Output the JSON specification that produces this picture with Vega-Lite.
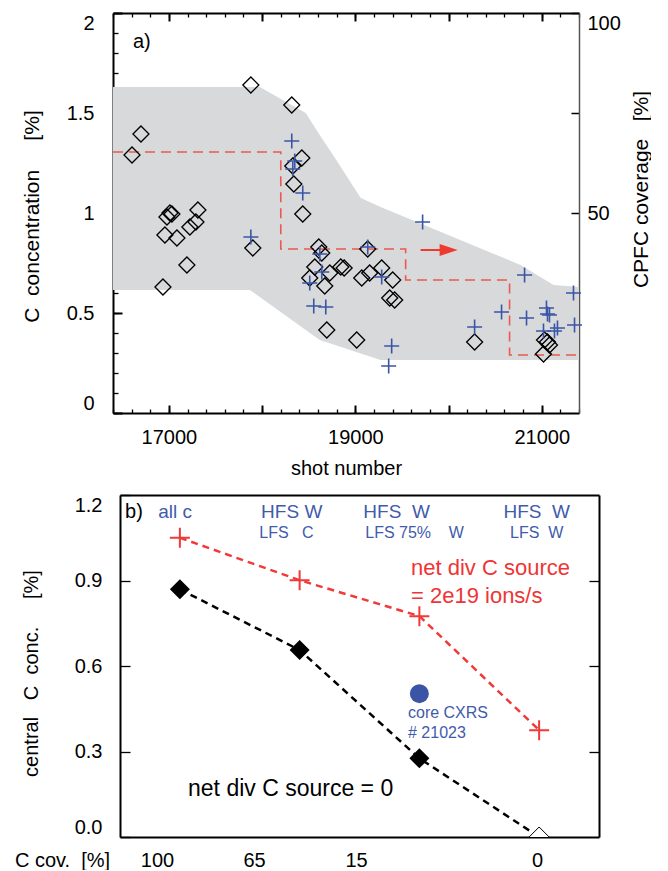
{
  "$schema": "https://vega.github.io/schema/vega-lite/v6.json",
  "padding": {"left": 14, "top": 12, "right": 0, "bottom": 0},
  "background": "white",
  "columns": 1,
  "spacing": 16,
  "config": {
    "view": {"stroke": null},
    "font": "Liberation Sans",
    "axis": {
      "domainColor": "black", "domainWidth": 2, "tickColor": "black", "tickWidth": 1.3,
      "labelColor": "black", "titleColor": "black", "labelFont": "Liberation Sans", "titleFont": "Liberation Sans",
      "labelFontSize": 20, "titleFontSize": 20, "titleFontWeight": "normal", "grid": false
    }
  },
  "datasets": {
    "band": [
      {"shot": 16400, "lo": 0.615, "hi": 1.63}, {"shot": 17868, "lo": 0.615, "hi": 1.63},
      {"shot": 17975, "lo": 0.58, "hi": 1.63}, {"shot": 18468, "lo": 0.415, "hi": 1.5},
      {"shot": 18618, "lo": 0.365, "hi": 1.39}, {"shot": 18768, "lo": 0.342, "hi": 1.285},
      {"shot": 19058, "lo": 0.297, "hi": 1.075}, {"shot": 19272, "lo": 0.265, "hi": 1.03},
      {"shot": 20773, "lo": 0.265, "hi": 0.74}, {"shot": 21127, "lo": 0.265, "hi": 0.64},
      {"shot": 21400, "lo": 0.265, "hi": 0.63}
    ],
    "step": [
      {"shot": 16400, "c": 1.305}, {"shot": 18200, "c": 0.82}, {"shot": 19540, "c": 0.665},
      {"shot": 20655, "c": 0.29}, {"shot": 21400, "c": 0.29}
    ],
    "shaft": [{"shot": 19700, "c": 0.815}, {"shot": 19930, "c": 0.815}],
    "head": [{"shot": 20001, "c": 0.815}],
    "dia": [
      {"shot": 16604, "c": 1.29}, {"shot": 16700, "c": 1.395}, {"shot": 17879, "c": 1.64},
      {"shot": 18318, "c": 1.54}, {"shot": 18340, "c": 1.145}, {"shot": 18426, "c": 1.275},
      {"shot": 18329, "c": 1.235}, {"shot": 18436, "c": 0.995}, {"shot": 16979, "c": 0.98},
      {"shot": 17011, "c": 1.0}, {"shot": 17032, "c": 0.995}, {"shot": 17311, "c": 1.015},
      {"shot": 17225, "c": 0.93}, {"shot": 17290, "c": 0.955}, {"shot": 16957, "c": 0.89},
      {"shot": 17086, "c": 0.875}, {"shot": 17193, "c": 0.74}, {"shot": 16936, "c": 0.63},
      {"shot": 17900, "c": 0.825}, {"shot": 18608, "c": 0.83}, {"shot": 18640, "c": 0.8},
      {"shot": 18565, "c": 0.73}, {"shot": 18726, "c": 0.7}, {"shot": 18511, "c": 0.675},
      {"shot": 18672, "c": 0.635}, {"shot": 18844, "c": 0.73}, {"shot": 18880, "c": 0.725},
      {"shot": 18694, "c": 0.415}, {"shot": 19133, "c": 0.82}, {"shot": 19154, "c": 0.7},
      {"shot": 19069, "c": 0.675}, {"shot": 19283, "c": 0.725}, {"shot": 19401, "c": 0.665},
      {"shot": 19369, "c": 0.575}, {"shot": 19422, "c": 0.565}, {"shot": 19015, "c": 0.365},
      {"shot": 20280, "c": 0.355}, {"shot": 21030, "c": 0.365}, {"shot": 21062, "c": 0.355},
      {"shot": 21083, "c": 0.34}, {"shot": 21019, "c": 0.295}
    ],
    "plus": [
      {"shot": 18318, "c": 1.36}, {"shot": 18350, "c": 1.26}, {"shot": 18329, "c": 1.22},
      {"shot": 18436, "c": 1.1}, {"shot": 17879, "c": 0.88}, {"shot": 18619, "c": 0.795},
      {"shot": 18640, "c": 0.705}, {"shot": 18511, "c": 0.65}, {"shot": 18554, "c": 0.535},
      {"shot": 18683, "c": 0.53}, {"shot": 19133, "c": 0.83}, {"shot": 19722, "c": 0.955},
      {"shot": 19283, "c": 0.68}, {"shot": 19390, "c": 0.335}, {"shot": 19358, "c": 0.235},
      {"shot": 20280, "c": 0.43}, {"shot": 20569, "c": 0.505}, {"shot": 20816, "c": 0.69},
      {"shot": 20837, "c": 0.475}, {"shot": 21051, "c": 0.525}, {"shot": 21062, "c": 0.495},
      {"shot": 21083, "c": 0.49}, {"shot": 21019, "c": 0.41}, {"shot": 21169, "c": 0.425},
      {"shot": 21137, "c": 0.41}, {"shot": 21341, "c": 0.6}, {"shot": 21352, "c": 0.44}
    ],
    "bline": [
      {"pos": 0.5, "v": 0.869}, {"pos": 1.5, "v": 0.656}, {"pos": 2.5, "v": 0.276}, {"pos": 3.5, "v": 0.0}
    ],
    "rline": [
      {"pos": 0.5, "v": 1.05}, {"pos": 1.5, "v": 0.901}, {"pos": 2.5, "v": 0.775}, {"pos": 3.5, "v": 0.375}
    ],
    "cxrs": [{"pos": 2.5, "v": 0.503}]
  },
  "concat": [
    {
      "width": 466,
      "height": 400,
      "resolve": {"axis": {"x": "independent", "y": "independent"}},
      "layer": [
        {
          "data": {"name": "band"},
          "mark": {"type": "area", "color": "#d8d9db"},
          "encoding": {
            "x": {"field": "shot", "type": "quantitative",
              "scale": {"domain": [16400, 21400], "nice": false, "zero": false},
              "axis": {"orient": "bottom", "values": [17000, 18000, 19000, 20000, 21000], "tickSize": -8, "tickWidth": 2,
                "labelExpr": "datum.value % 2000 == 1000 ? format(datum.value, 'd') : ''",
                "labelBaseline": "alphabetic", "labelPadding": 38,
                "title": "shot number", "titleY": 61, "titleBaseline": "alphabetic"}},
            "y": {"field": "hi", "type": "quantitative",
              "scale": {"domain": [0, 2], "nice": false},
              "axis": {"orient": "left", "values": [0, 0.5, 1, 1.5, 2], "tickSize": -9, "tickWidth": 2,
                "labelPadding": 28, "labelFlush": true, "format": "~g", "minExtent": 99,
                "title": "C\u00a0\u00a0concentration\u00a0\u00a0\u00a0\u00a0\u00a0[%]", "titleAngle": 270,
                "titleX": -75, "titleY": 203, "titleBaseline": "alphabetic", "titleAlign": "center", "titleFontSize": 21}},
            "y2": {"field": "lo"}
          }
        },
        {
          "data": {"name": "step"},
          "mark": {"type": "line", "interpolate": "step-after", "color": "#e85a50", "strokeWidth": 1.6, "strokeDash": [10, 6]},
          "encoding": {
            "x": {"field": "shot", "type": "quantitative",
              "axis": {"orient": "bottom", "values": [16400, 16600, 16800, 17000, 17200, 17400, 17600, 17800, 18000, 18200, 18400, 18600, 18800, 19000, 19200, 19400, 19600, 19800, 20000, 20200, 20400, 20600, 20800, 21000, 21200, 21400],
                "tickSize": -4, "labels": false, "title": null, "domain": false}},
            "y": {"field": "c", "type": "quantitative",
              "axis": {"orient": "left", "values": [0, 0.1, 0.2, 0.3, 0.4, 0.5, 0.6, 0.7, 0.8, 0.9, 1, 1.1, 1.2, 1.3, 1.4, 1.5, 1.6, 1.7, 1.8, 1.9, 2],
                "tickSize": -5, "labels": false, "title": null, "domain": false}}
          }
        },
        {
          "data": {"name": "shaft"},
          "mark": {"type": "line", "color": "#ee3a2f", "strokeWidth": 2},
          "encoding": {
            "x": {"field": "shot", "type": "quantitative",
              "axis": {"orient": "top", "values": [17000, 18000, 19000, 20000, 21000], "tickSize": -8, "tickWidth": 2, "labels": false, "title": null}},
            "y": {"field": "c", "type": "quantitative",
              "axis": {"orient": "right", "values": [0.5, 1, 1.5, 2], "tickSize": -8, "tickWidth": 1.5, "labelPadding": 16, "labelFlush": true,
                "labelExpr": "datum.value == 1 ? '50' : datum.value == 2 ? '100' : ''",
                "domainColor": "#555555", "domainWidth": 1.5,
                "title": "CPFC coverage\u00a0\u00a0\u00a0[%]", "titleAngle": 270, "titleX": 68, "titleY": 176,
                "titleBaseline": "alphabetic", "titleAlign": "center", "titleFontSize": 21}}
          }
        },
        {
          "data": {"name": "head"},
          "mark": {"type": "point", "shape": "M-1.5,-1L1.5,0L-1.5,1Z", "filled": true, "color": "#ee3a2f", "size": 144, "opacity": 1},
          "encoding": {
            "x": {"field": "shot", "type": "quantitative",
              "axis": {"orient": "top", "values": [16400, 16600, 16800, 17000, 17200, 17400, 17600, 17800, 18000, 18200, 18400, 18600, 18800, 19000, 19200, 19400, 19600, 19800, 20000, 20200, 20400, 20600, 20800, 21000, 21200, 21400],
                "tickSize": -4, "labels": false, "title": null, "domain": false}},
            "y": {"field": "c", "type": "quantitative", "axis": null}
          }
        },
        {
          "data": {"name": "dia"},
          "mark": {"type": "point", "shape": "diamond", "filled": false, "stroke": "black", "strokeWidth": 1.3, "size": 256, "opacity": 1},
          "encoding": {
            "x": {"field": "shot", "type": "quantitative", "axis": null},
            "y": {"field": "c", "type": "quantitative", "axis": null}
          }
        },
        {
          "data": {"name": "plus"},
          "mark": {"type": "point", "shape": "M-1,0H1M0,-1V1", "filled": false, "stroke": "#3a55a5", "strokeWidth": 1.6, "size": 225, "opacity": 1},
          "encoding": {
            "x": {"field": "shot", "type": "quantitative", "axis": null},
            "y": {"field": "c", "type": "quantitative", "axis": null}
          }
        },
        {
          "data": {"values": [{"shot": 16614, "c": 1.855, "t": "a)"}]},
          "mark": {"type": "text", "align": "left", "baseline": "middle", "fontSize": 20, "color": "black"},
          "encoding": {
            "x": {"field": "shot", "type": "quantitative", "axis": null},
            "y": {"field": "c", "type": "quantitative", "axis": null},
            "text": {"field": "t"}
          }
        }
      ]
    },
    {
      "width": 486,
      "height": 342,
      "resolve": {"axis": {"x": "independent", "y": "independent"}},
      "layer": [
        {
          "data": {"name": "bline"},
          "mark": {"type": "line", "color": "black", "strokeWidth": 2.5, "strokeDash": [7, 5]},
          "encoding": {
            "x": {"field": "pos", "type": "quantitative",
              "scale": {"domain": [0, 4], "range": [7, 486], "nice": false, "zero": false},
              "axis": {"orient": "bottom", "values": [0.309, 1.119, 1.971, 3.482], "ticks": false, "tickSize": 0,
                "labelExpr": "datum.value < 0.5 ? '100' : datum.value < 1.5 ? '65' : datum.value < 2.5 ? '15' : '0'",
                "labelBaseline": "alphabetic", "labelPadding": 29,
                "title": "C cov.\u00a0\u00a0[%]", "titleX": -51, "titleY": 29, "titleBaseline": "alphabetic", "titleAlign": "center"}},
            "y": {"field": "v", "type": "quantitative",
              "scale": {"domain": [0, 1.2], "nice": false},
              "axis": {"orient": "left", "offset": -7, "values": [0, 0.3, 0.6, 0.9, 1.2], "format": ".1f", "tickSize": -10, "tickWidth": 1.3,
                "labelPadding": 28, "labelFlush": true,
                "title": "central\u00a0\u00a0\u00a0C\u00a0\u00a0conc.\u00a0\u00a0\u00a0\u00a0\u00a0[%]", "titleAngle": 270,
                "titleX": -83, "titleY": 178, "titleBaseline": "alphabetic", "titleAlign": "center"}}
          }
        },
        {
          "data": {"name": "rline"},
          "mark": {"type": "line", "color": "#f03a3a", "strokeWidth": 2.5, "strokeDash": [7, 5]},
          "encoding": {
            "x": {"field": "pos", "type": "quantitative",
              "axis": {"orient": "top", "ticks": false, "labels": false, "title": null}},
            "y": {"field": "v", "type": "quantitative",
              "axis": {"orient": "right", "values": [0.3, 0.6, 0.9], "tickSize": -10, "labels": false, "title": null}}
          }
        },
        {
          "data": {"name": "bline"},
          "transform": [{"filter": "datum.pos < 3"}],
          "mark": {"type": "point", "shape": "diamond", "filled": true, "color": "black", "size": 400, "opacity": 1},
          "encoding": {
            "x": {"field": "pos", "type": "quantitative", "axis": null},
            "y": {"field": "v", "type": "quantitative", "axis": null}
          }
        },
        {
          "data": {"name": "bline"},
          "transform": [{"filter": "datum.pos > 3"}],
          "mark": {"type": "point", "shape": "diamond", "filled": true, "fill": "white", "stroke": "black", "strokeWidth": 1, "size": 400, "opacity": 1, "clip": true},
          "encoding": {
            "x": {"field": "pos", "type": "quantitative", "axis": null},
            "y": {"field": "v", "type": "quantitative", "axis": null}
          }
        },
        {
          "data": {"name": "rline"},
          "mark": {"type": "point", "shape": "M-1,0H1M0,-1V1", "filled": false, "stroke": "#f03a3a", "strokeWidth": 2, "size": 400, "opacity": 1},
          "encoding": {
            "x": {"field": "pos", "type": "quantitative", "axis": null},
            "y": {"field": "v", "type": "quantitative", "axis": null}
          }
        },
        {
          "data": {"name": "cxrs"},
          "mark": {"type": "point", "shape": "circle", "filled": true, "color": "#3a55a5", "size": 361, "opacity": 1},
          "encoding": {
            "x": {"field": "pos", "type": "quantitative", "axis": null},
            "y": {"field": "v", "type": "quantitative", "axis": null}
          }
        },
        {
          "data": {"values": [
            {"pos": 0.46, "v": 1.14, "t": "all c"},
            {"pos": 1.434, "v": 1.14, "t": "HFS W"},
            {"pos": 2.31, "v": 1.14, "t": "HFS\u00a0\u00a0W"},
            {"pos": 3.48, "v": 1.14, "t": "HFS\u00a0\u00a0W"}
          ]},
          "mark": {"type": "text", "align": "center", "baseline": "middle", "fontSize": 19, "color": "#3f5bab"},
          "encoding": {
            "x": {"field": "pos", "type": "quantitative", "axis": null},
            "y": {"field": "v", "type": "quantitative", "axis": null},
            "text": {"field": "t"}
          }
        },
        {
          "data": {"values": [
            {"pos": 1.39, "v": 1.067, "t": "LFS\u00a0\u00a0\u00a0C"},
            {"pos": 2.46, "v": 1.067, "t": "LFS 75%\u00a0\u00a0\u00a0\u00a0W"},
            {"pos": 3.48, "v": 1.067, "t": "LFS\u00a0\u00a0W"}
          ]},
          "mark": {"type": "text", "align": "center", "baseline": "middle", "fontSize": 16, "color": "#3f5bab"},
          "encoding": {
            "x": {"field": "pos", "type": "quantitative", "axis": null},
            "y": {"field": "v", "type": "quantitative", "axis": null},
            "text": {"field": "t"}
          }
        },
        {
          "data": {"values": [
            {"pos": 2.405, "v": 0.435, "t": "core CXRS"},
            {"pos": 2.405, "v": 0.365, "t": "# 21023"}
          ]},
          "mark": {"type": "text", "align": "left", "baseline": "middle", "fontSize": 16, "color": "#3f5bab"},
          "encoding": {
            "x": {"field": "pos", "type": "quantitative", "axis": null},
            "y": {"field": "v", "type": "quantitative", "axis": null},
            "text": {"field": "t"}
          }
        },
        {
          "data": {"values": [
            {"pos": 2.43, "v": 0.944, "t": "net div C source"},
            {"pos": 2.43, "v": 0.846, "t": "= 2e19 ions/s"}
          ]},
          "mark": {"type": "text", "align": "left", "baseline": "middle", "fontSize": 22, "color": "#ee3535"},
          "encoding": {
            "x": {"field": "pos", "type": "quantitative", "axis": null},
            "y": {"field": "v", "type": "quantitative", "axis": null},
            "text": {"field": "t"}
          }
        },
        {
          "data": {"values": [
            {"pos": 0.568, "v": 0.168, "t": "net div C source = 0"}
          ]},
          "mark": {"type": "text", "align": "left", "baseline": "middle", "fontSize": 23, "color": "black"},
          "encoding": {
            "x": {"field": "pos", "type": "quantitative", "axis": null},
            "y": {"field": "v", "type": "quantitative", "axis": null},
            "text": {"field": "t"}
          }
        },
        {
          "data": {"values": [
            {"pos": 0.042, "v": 1.14, "t": "b)"}
          ]},
          "mark": {"type": "text", "align": "left", "baseline": "middle", "fontSize": 20, "color": "black"},
          "encoding": {
            "x": {"field": "pos", "type": "quantitative", "axis": null},
            "y": {"field": "v", "type": "quantitative", "axis": null},
            "text": {"field": "t"}
          }
        }
      ]
    }
  ]
}
